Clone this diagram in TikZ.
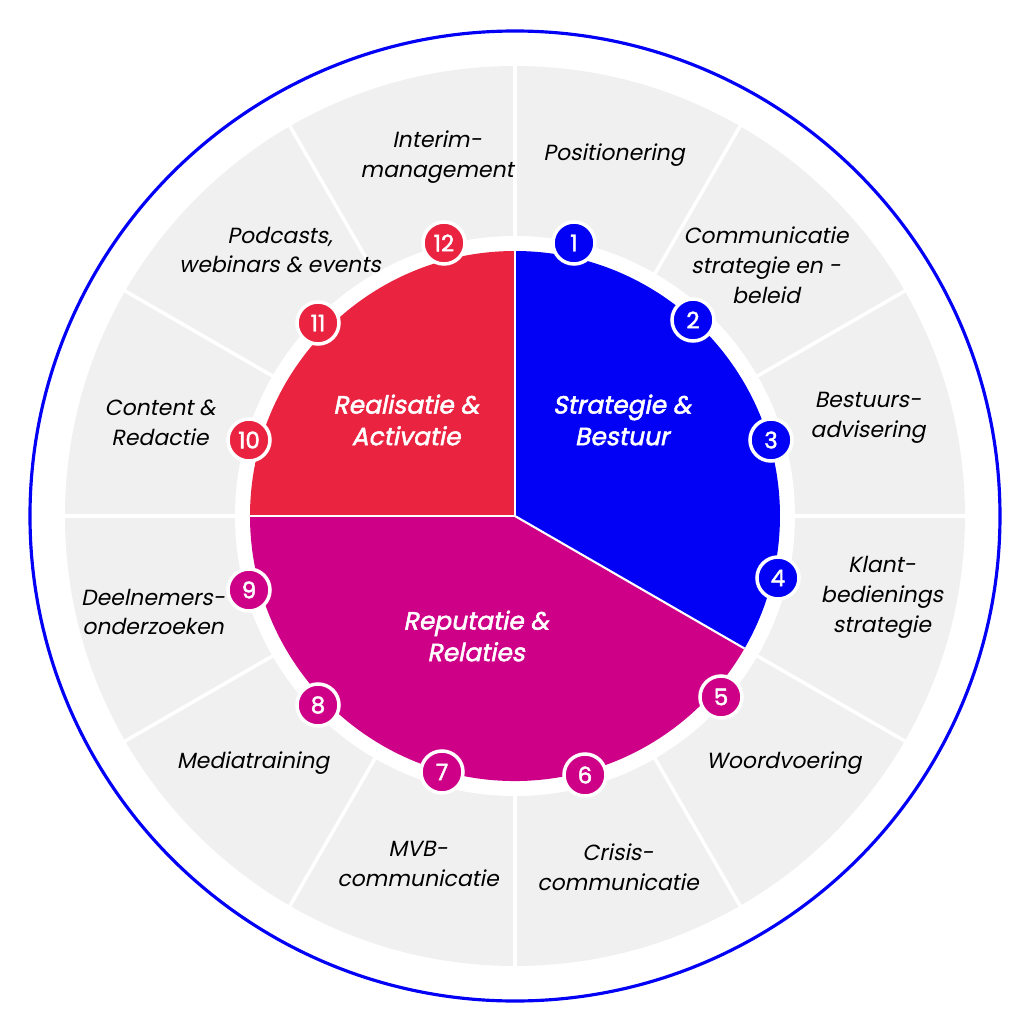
\documentclass[tikz,border=0pt]{standalone}
\usepackage{fontspec}
\setmainfont{Poppins}[AutoFakeSlant=0.2,AutoFakeBold=2]
\usepackage{tikz}
\usetikzlibrary{positioning}

\definecolor{sbblue}{RGB}{2,0,245}
\definecolor{rared}{RGB}{234,36,64}
\definecolor{rrmag}{RGB}{206,0,136}
\definecolor{ringgrey}{RGB}{240,240,240}

\tikzset{
	item/.style={align=center, font=\fontsize{6.25}{8.5}\selectfont\itshape, text=black},
	title/.style={align=center, font=\fontsize{7.1}{9}\selectfont\bfseries\itshape, text=white},
	num/.style={circle, draw=white, line width=1pt, minimum size=0.42cm, inner sep=0pt,
		font=\fontsize{6.5}{7}\selectfont\bfseries, text=white},
}

\begin{document}
\begin{tikzpicture}
	\useasboundingbox (-5.15,-5.08) rectangle (5.09,5.16);
	\coordinate (O) at (0,0);
	% buitenring
	\draw[sbblue, line width=0.9pt] (O) circle (4.85);
	\fill[ringgrey] (O) circle (4.5);
	\foreach \a in {0,30,...,330}
		\draw[white, line width=1pt] (O) -- (\a:4.6);
	\fill[white] (O) circle (2.8);
	% taartdelen
	\fill[sbblue] (O) -- (90:2.65) arc (90:-30:2.65) -- cycle;
	\fill[rrmag] (O) -- (-30:2.65) arc (-30:-180:2.65) -- cycle;
	\fill[rared] (O) -- (180:2.65) arc (180:90:2.65) -- cycle;
	\draw[white, line width=0.6pt] (O) -- (90:2.65);
	\draw[white, line width=0.6pt] (O) -- (-30:2.65);
	\draw[white, line width=0.6pt] (O) -- (180:2.65);
	% titels
	\node[title] (sb) at (1.07,0.96) {Strategie \&\\Bestuur};
	\node[title] (ra) at (-1.09,0.96) {Realisatie \&\\Activatie};
	\node[title] (rr) at (-0.39,-1.20) {Reputatie \&\\Relaties};
	% onderdelen
	\node[item] (l1) at (0.99,3.61) {Positionering};
	\node[item] (l2) at (2.51,2.51) {Communicatie\\strategie en -\\beleid};
	\node[item] (l3) at (3.53,0.98) {Bestuurs-\\advisering};
	\node[item] (l4) at (3.67,-0.81) {Klant-\\bedienings\\strategie};
	\node[item] (l5) at (2.69,-2.47) {Woordvoering};
	\node[item] (l6) at (1.03,-3.51) {Crisis-\\communicatie};
	\node[item] (l7) at (-0.97,-3.48) {MVB-\\communicatie};
	\node[item] (l8) at (-2.62,-2.47) {Mediatraining};
	\node[item] (l9) at (-3.62,-0.96) {Deelnemers-\\onderzoeken};
	\node[item] (l10) at (-3.55,0.93) {Content \&\\Redactie};
	\node[item] (l11) at (-2.35,2.66) {Podcasts,\\webinars \& events};
	\node[item] (l12) at (-0.78,3.59) {Interim-\\management};
	% nummers
	\node[num, fill=sbblue] (n1) at (0.59,2.73) {1};
	\node[num, fill=sbblue] (n2) at (1.78,1.96) {2};
	\node[num, fill=sbblue] (n3) at (2.56,0.76) {3};
	\node[num, fill=sbblue] (n4) at (2.63,-0.62) {4};
	\node[num, fill=rrmag] (n5) at (2.06,-1.81) {5};
	\node[num, fill=rrmag] (n6) at (0.70,-2.59) {6};
	\node[num, fill=rrmag] (n7) at (-0.73,-2.56) {7};
	\node[num, fill=rrmag] (n8) at (-1.97,-1.89) {8};
	\node[num, fill=rrmag] (n9) at (-2.66,-0.74) {9};
	\node[num, fill=rared] (n10) at (-2.66,0.76) {10};
	\node[num, fill=rared] (n11) at (-1.97,1.93) {11};
	\node[num, fill=rared] (n12) at (-0.71,2.73) {12};
\end{tikzpicture}
\end{document}
